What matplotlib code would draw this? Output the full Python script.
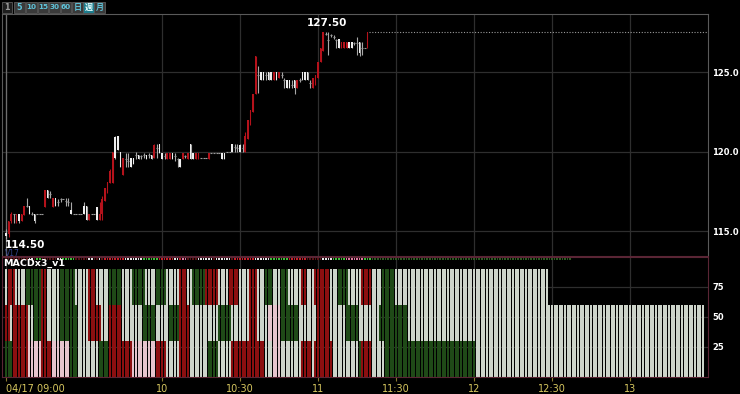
import matplotlib.pyplot as plt
from matplotlib.patches import Rectangle

plt.rcParams['font.family'] = ['DejaVu Sans', 'Noto Sans CJK JP']

# 1-minute candles from 09:00 (minute index 0 = 09:00)
opens = [114.9, 114.8, 115.6, 116.1, 115.6, 116.1, 115.6, 116.0, 116.6, 116.6,
         116.1, 116.1, 116.1, 116.1, 116.1, 116.5, 117.6, 117.3, 116.5, 117.1,
         116.8, 117.0, 117.0, 116.9, 116.8, 116.3, 116.1, 116.1, 116.1, 116.1,
         116.6, 116.6, 115.7, 116.1, 116.1, 116.5, 115.7, 116.1, 116.9, 117.4,
         118.0, 118.0, 120.9, 121.0, 120.0, 118.5, 119.5, 119.4, 119.6, 119.6,
         119.8, 119.8, 119.7, 119.8, 119.8, 119.8, 119.8, 119.6, 120.2, 120.5,
         119.9, 119.7, 119.5, 119.5, 119.9, 119.7, 119.5, 119.5, 119.5, 119.7,
         119.5, 120.5, 119.9, 119.5, 119.5, 119.6, 119.6, 119.6, 119.5, 119.9,
         119.9, 119.9, 119.9, 119.9, 119.9, 120.0, 120.0, 120.5, 120.3, 120.2,
         120.4, 120.2, 120.0, 120.8, 121.7, 122.5, 123.6, 124.8, 125.0, 125.0,
         124.8, 125.0, 125.0, 124.5, 125.0, 124.6, 124.8, 124.5, 124.5, 124.5,
         124.2, 124.5, 124.0, 124.5, 125.0, 125.0, 125.0, 124.3, 124.0, 124.2,
         124.6, 125.6, 126.3, 127.4, 127.0, 127.3, 127.2, 127.0, 127.1, 126.5,
         126.5, 126.5, 126.9, 126.9, 126.8, 126.8, 126.9, 126.5, 126.5, 126.5]
highs = [115.1, 115.6, 116.2, 116.1, 116.1, 116.1, 116.1, 116.6, 117.1, 116.6,
         116.2, 116.1, 116.1, 116.1, 116.1, 117.6, 117.6, 117.5, 117.1, 117.1,
         117.0, 117.1, 117.0, 117.1, 117.1, 116.8, 116.1, 116.1, 116.1, 116.1,
         116.8, 116.6, 116.1, 116.1, 116.1, 116.5, 116.8, 117.2, 117.7, 118.1,
         118.9, 120.0, 121.0, 121.0, 120.0, 119.6, 119.9, 119.9, 119.6, 119.6,
         120.0, 119.8, 119.8, 119.9, 119.8, 119.9, 119.8, 120.5, 120.5, 120.5,
         119.9, 119.9, 119.9, 119.9, 119.9, 119.9, 119.6, 119.5, 119.9, 119.8,
         119.9, 120.5, 119.9, 119.9, 119.9, 119.6, 119.6, 119.6, 119.9, 119.9,
         119.9, 119.9, 119.9, 119.9, 119.9, 120.0, 120.0, 120.5, 120.5, 120.5,
         120.5, 120.5, 121.2, 122.0, 122.6, 123.6, 126.0, 125.4, 125.0, 125.0,
         125.0, 125.0, 125.0, 125.0, 125.0, 125.0, 125.0, 124.6, 124.5, 124.5,
         124.5, 124.5, 124.5, 124.6, 125.0, 125.0, 125.0, 124.5, 124.6, 124.8,
         125.6, 126.5, 127.5, 127.5, 127.5, 127.4, 127.3, 127.1, 127.1, 126.9,
         126.9, 126.9, 126.9, 126.9, 126.9, 127.2, 126.9, 126.9, 126.5, 127.5]
lows = [114.5, 114.6, 115.5, 115.5, 115.5, 115.5, 115.6, 116.0, 116.5, 116.1,
        116.0, 115.5, 116.1, 116.1, 116.1, 116.5, 117.1, 117.1, 116.5, 116.6,
        116.6, 116.8, 117.0, 116.6, 116.6, 116.1, 116.1, 116.1, 116.1, 116.1,
        116.1, 115.7, 115.7, 116.1, 116.1, 115.7, 115.7, 115.7, 116.9, 117.4,
        118.0, 118.0, 119.5, 120.1, 119.0, 118.5, 119.0, 119.0, 119.0, 119.2,
        119.5, 119.5, 119.5, 119.6, 119.5, 119.6, 119.5, 119.6, 119.6, 119.9,
        119.5, 119.5, 119.5, 119.5, 119.5, 119.4, 119.0, 119.0, 119.5, 119.6,
        119.5, 119.5, 119.5, 119.5, 119.5, 119.6, 119.6, 119.6, 119.5, 119.9,
        119.9, 119.9, 119.9, 119.5, 119.5, 120.0, 120.0, 120.0, 120.0, 120.0,
        120.0, 120.0, 120.0, 120.8, 121.7, 122.5, 123.6, 123.7, 124.5, 124.5,
        124.5, 124.5, 124.5, 124.5, 124.5, 124.6, 124.6, 124.0, 124.0, 124.0,
        124.0, 123.6, 124.0, 124.4, 124.5, 124.5, 124.5, 124.0, 124.0, 124.2,
        124.6, 125.6, 126.3, 127.3, 126.1, 127.2, 127.1, 126.5, 126.5, 126.5,
        126.5, 126.5, 126.5, 126.5, 126.7, 126.1, 126.0, 126.1, 126.5, 126.5]
closes = [114.7, 115.6, 116.1, 116.1, 116.1, 115.6, 116.1, 116.6, 116.6, 116.1,
          116.1, 115.6, 116.1, 116.1, 116.1, 117.6, 117.1, 117.3, 117.1, 116.6,
          116.8, 117.0, 117.0, 116.9, 116.8, 116.1, 116.1, 116.1, 116.1, 116.1,
          116.1, 115.7, 116.1, 116.1, 116.1, 115.7, 116.1, 117.0, 117.7, 118.1,
          118.8, 120.0, 119.6, 120.1, 119.0, 119.6, 119.5, 119.4, 119.0, 119.2,
          119.8, 119.5, 119.7, 119.8, 119.5, 119.8, 119.5, 120.4, 120.2, 119.9,
          119.5, 119.7, 119.9, 119.9, 119.5, 119.7, 119.5, 119.0, 119.9, 119.7,
          119.9, 119.5, 119.5, 119.9, 119.9, 119.6, 119.6, 119.6, 119.9, 119.9,
          119.9, 119.9, 119.9, 119.5, 119.5, 120.0, 120.0, 120.0, 120.3, 120.2,
          120.0, 120.2, 121.0, 122.0, 122.6, 123.6, 126.0, 124.8, 124.5, 124.5,
          124.8, 124.5, 124.5, 125.0, 124.5, 125.0, 124.8, 124.5, 124.0, 124.0,
          124.2, 124.0, 124.5, 124.5, 124.5, 124.5, 124.5, 124.3, 124.6, 124.8,
          125.6, 126.5, 127.5, 127.4, 127.0, 127.3, 127.2, 127.0, 126.5, 126.9,
          126.9, 126.9, 126.5, 126.5, 126.8, 126.8, 126.2, 126.5, 126.5, 127.5]

# MACDx3_v1 panel: colour code per minute, run-length (r red, p pink, g green, w light)
macd_top = ("w1 r3 w4 g6 r2 w5 g6 w5 r3 w5 g5 w4 g5 w4 g4 w5 r3 w2 g5 r5 w4 r4 "
            "w4 r3 w3 g3 w3 g3 w5 r2 w3 r6 w3 g4 w5 r4 w4 g5 w59")
macd_mid = ("r2 w1 r6 w2 g3 r2 w5 g7 w4 r5 w3 r5 w8 g5 w5 g4 r4 w11 g5 w7 r3 w4 "
            "p5 g7 w7 r5 w6 g5 w8 g11 w114")
macd_low = ("g3 r6 p5 r4 p7 g3 w8 g4 r9 p9 r4 w5 r4 w7 g4 w5 r13 w3 p3 w8 r4 w1 "
            "r7 w10 g1 r4 w5 g35 w88")
# signal dots above the panel (d dim red, D dim green, W white, G green, R red, P pink)
dots = ("d9 W2 d1 G2 d6 W2 G5 d5 W2 d2 W1 d1 R8 W7 G6 R6 W2 R1 P2 d4 W6 d1 W6 d1 "
        "R8 W6 G7 R7 d6 W4 G5 P7 G3 D77")

tick_pos = [0, 60, 90, 120, 150, 180, 210, 240]
tick_lab = ['04/17 09:00', '10', '10:30', '11', '11:30', '12', '12:30', '13']
price_ticks = [115, 120, 125]
macd_ticks = [25, 50, 75]
buttons = ['1', '5', '10', '15', '30', '60', '日', '週', '月']


def expand(runs):
    out = []
    for tok in runs.split():
        out += [tok[0]] * int(tok[1:])
    return out


fig = plt.figure(figsize=(7.4, 3.94), dpi=100, facecolor='black')
ax = fig.add_axes([2 / 740, 1 - 256 / 394, 706 / 740, 242 / 394])
ax2 = fig.add_axes([2 / 740, 1 - 377 / 394, 706 / 740, 120 / 394], sharex=ax)
grid_c = '#2e2e2e'

# ---- price panel
ax.set_facecolor('black')
for i in range(len(closes)):
    o, h, l, c = opens[i], highs[i], lows[i], closes[i]
    if c > o:
        col = '#b5121b'
    elif c < o:
        col = '#eeeeee'
    else:
        col = '#9a9a9a'
    ax.vlines(i, l, h, color=col if c > o else '#a8a8a8', lw=0.8, zorder=3)
    if c != o:
        ax.bar(i, abs(c - o), bottom=min(o, c), width=0.62, color=col, lw=0, zorder=4)
    else:
        ax.hlines(c, i - 0.35, i + 0.35, color=col, lw=0.8, zorder=4)

ax.hlines(closes[-1], len(closes) - 0.5, 269.5, color='#9a9a9a', lw=0.8,
          linestyles=(0, (1, 1.5)), zorder=2)

hi = max(highs)
lo = min(lows)
ax.annotate(f'{hi:.2f}', (highs.index(hi), hi), xytext=(3, 3), textcoords='offset points',
            ha='center', va='bottom', color='white', fontsize=7.5, fontweight='bold')
ax.annotate(f'{lo:.2f}', (lows.index(lo), lo), xytext=(-1, -0.5), textcoords='offset points',
            ha='left', va='top', color='white', fontsize=7.5, fontweight='bold', zorder=6)

ax.set_ylim(113.43, 128.65)
ax.set_xlim(-1.54, 270)
ax.set_yticks(price_ticks)
ax.set_yticklabels([f'{v:.1f}' for v in price_ticks])
ax.yaxis.tick_right()
ax.tick_params(axis='y', length=0, pad=3, labelcolor='white', labelsize=6)
for t in ax.get_yticklabels():
    t.set_fontweight('bold')
ax.tick_params(axis='x', length=0, labelbottom=False)
ax.grid(True, color=grid_c, lw=0.9)
ax.set_axisbelow(True)
ax.axvline(0, color='#6e6e6e', lw=0.9, zorder=1)
for s in ['left', 'top', 'right']:
    ax.spines[s].set_color('#5a5a5a')
ax.spines['bottom'].set_color('#5a2535')

# ---- MACDx3 panel
ax2.set_facecolor('black')
pal = {'r': '#8c0f10', 'p': '#e6c4cd', 'g': '#1f4a17', 'w': '#cdd4ca'}
for codes, base in [(expand(macd_low), 0), (expand(macd_mid), 30), (expand(macd_top), 60)]:
    ax2.bar(range(len(codes)), 30, bottom=base, width=0.74,
            color=[pal[k] for k in codes], lw=0, zorder=2)

dot_pal = {'d': '#5a1416', 'D': '#2c5a22', 'W': '#e8e8e8', 'G': '#3fbf3a',
           'R': '#c8202a', 'P': '#e07aa0'}
dcodes = expand(dots)
ax2.scatter(range(len(dcodes)), [98.6] * len(dcodes), marker='s', s=1.6,
            c=[dot_pal[k] for k in dcodes], lw=0, zorder=4, clip_on=False)

ax2.text(-1, 94.5, 'MACDx3_v1', color='white', fontsize=6.8, fontweight='bold',
         va='center', ha='left', zorder=5)

ax2.set_ylim(0, 100)
ax2.set_yticks(macd_ticks)
ax2.yaxis.tick_right()
ax2.tick_params(axis='y', length=0, pad=3, labelcolor='white', labelsize=6)
for t in ax2.get_yticklabels():
    t.set_fontweight('bold')
ax2.set_xticks(tick_pos)
ax2.set_xticklabels(tick_lab)
ax2.get_xticklabels()[0].set_ha('left')
ax2.tick_params(axis='x', length=3, color='#8a7a30', pad=2, labelcolor='#d8c860',
                labelsize=7)
ax2.grid(True, color=grid_c, lw=0.9)
ax2.set_axisbelow(True)
for s in ax2.spines.values():
    s.set_color('#5a2535')

# ---- toolbar and stray label (pixel overlay)
ov = fig.add_axes([0, 0, 1, 1])
ov.set_xlim(0, 740)
ov.set_ylim(394, 0)
ov.axis('off')
ov.patch.set_visible(False)
centers = [7, 19.5, 31.5, 43, 54.5, 66, 77.5, 88.5, 99.5]
for i, b in enumerate(buttons):
    w = 10.6
    fc = '#3a3a3a'
    tc = '#5fc2d8'
    if i == 0:
        fc, tc = '#1e1e1e', '#9a9a9a'
    if b == '週':
        fc, tc = '#1d7d8e', '#e8ffff'
    ov.add_patch(Rectangle((centers[i] - w / 2, 1.5), w, 11, fc=fc, ec='#5a5a5a', lw=0.6))
    ov.text(centers[i], 7.3, b, color=tc, fontsize=5.2 if len(b) > 1 else 5.8,
            fontweight='bold', ha='center', va='center')
ov.text(5, 253.5, 'V17', color='#34448a', fontsize=5.5, ha='left', va='center')

fig.savefig('out.png', dpi=100, facecolor='black')
